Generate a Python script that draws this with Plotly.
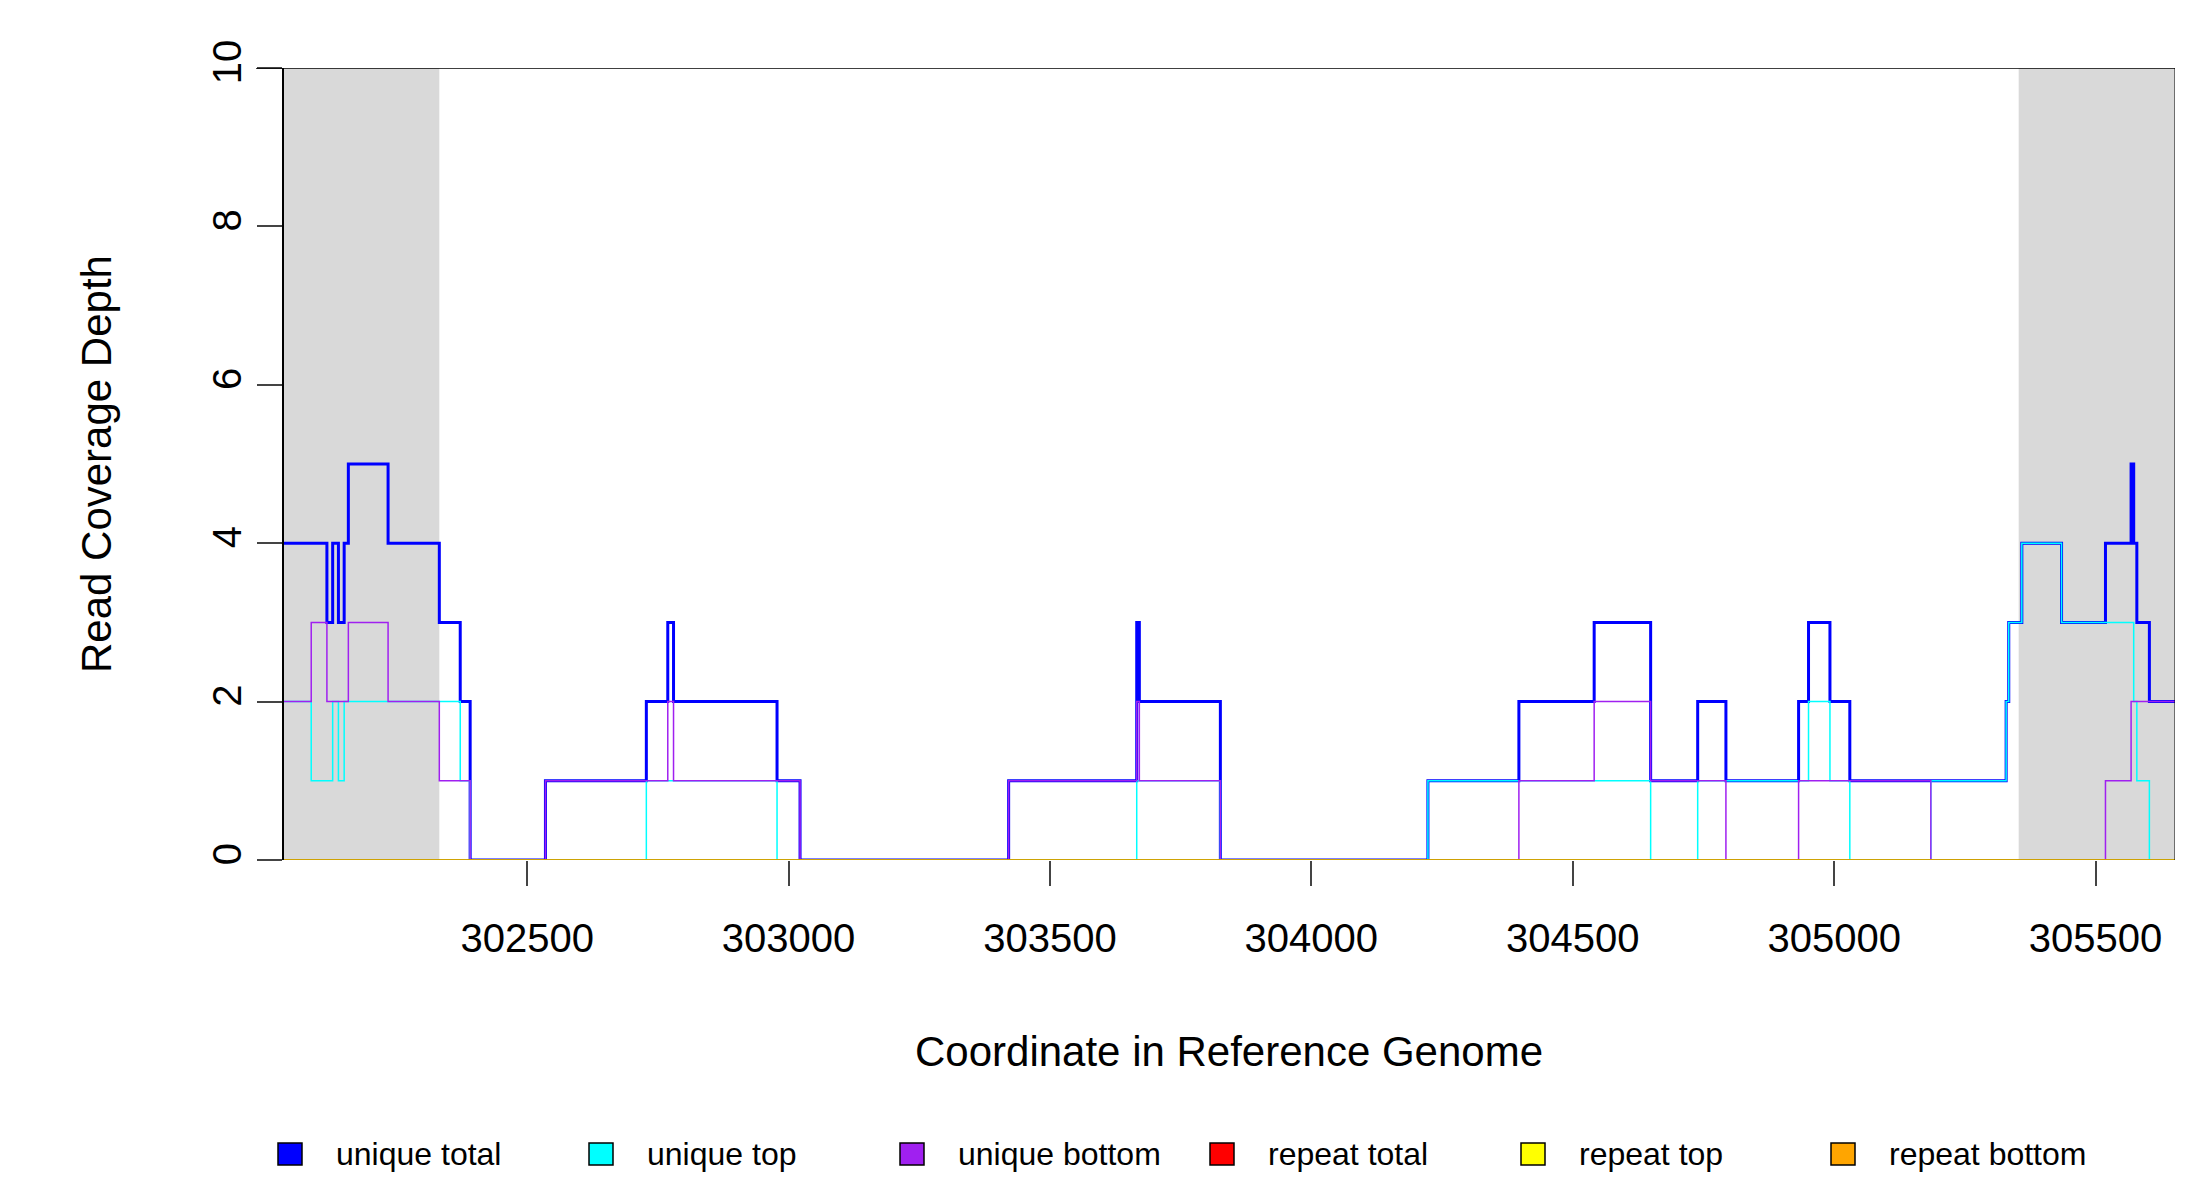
import plotly.graph_objects as go

# breakpoints (start of each step) and depth values
pos = [302033, 302087, 302117, 302128, 302139, 302144, 302150, 302158, 302234, 302332,
       302372, 302391, 302535, 302728, 302769, 302780, 302978, 303022, 303421, 303666,
       303671, 303826, 304223, 304397, 304541, 304649, 304739, 304793, 304932, 304951,
       304992, 305030, 305185, 305329, 305334, 305359, 305435, 305519, 305568, 305573,
       305579, 305603, 305652]
uniq_top = [2, 1, 1, 2, 1, 1, 2, 2, 2, 2,
            1, 0, 0, 1, 1, 1, 0, 0, 0, 1,
            1, 0, 1, 1, 1, 0, 1, 1, 1, 2,
            1, 0, 1, 2, 3, 4, 3, 3, 3, 2,
            1, 0, 0]
uniq_bottom = [2, 3, 2, 2, 2, 2, 2, 3, 2, 1,
               1, 0, 1, 1, 2, 1, 1, 0, 1, 2,
               1, 0, 0, 1, 2, 1, 1, 0, 1, 1,
               1, 1, 0, 0, 0, 0, 0, 1, 2, 2,
               2, 2, 2]
uniq_total = [4, 4, 3, 4, 3, 3, 4, 5, 4, 3,
              2, 0, 1, 2, 3, 2, 1, 0, 1, 3,
              2, 0, 1, 2, 3, 1, 2, 1, 2, 3,
              2, 1, 1, 2, 3, 4, 3, 4, 5, 4,
              3, 2, 2]
rep_total = [0] * len(pos)
rep_top = [0] * len(pos)
rep_bottom = [0] * len(pos)

shaded = [(302033, 302332), (305353, 305652)]
xticks = [302500, 303000, 303500, 304000, 304500, 305000, 305500]

names = ["unique total", "unique top", "unique bottom", "repeat total", "repeat top", "repeat bottom"]
colors = ["#0000ff", "#00ffff", "#a020f0", "#ff0000", "#ffff00", "#ffa500"]

L, R, T, B = 275, 33, 60, 348
W, H = 2200, 1200
pw, ph = W - L - R, H - T - B

def px(x):
    return (x - L) / pw

def py(y):
    return (H - B - y) / ph

fig = go.Figure()
series = [(uniq_total, "#0000ff", 3), (uniq_top, "#00ffff", 1.5), (uniq_bottom, "#a020f0", 1.5),
          (rep_total, "#ff0000", 1.5), (rep_top, "#00c000", 1.5), (rep_bottom, "#ffa500", 1.5)]
for vals, c, w in series:
    fig.add_trace(go.Scatter(x=pos, y=vals, mode="lines", line=dict(color=c, width=w, shape="hv"),
                             showlegend=False, hoverinfo="skip"))

for a, b in shaded:
    fig.add_vrect(x0=a, x1=b, fillcolor="#d9d9d9", line_width=0, layer="below")

# top border and right edge
fig.add_shape(type="line", xref="paper", yref="y", x0=px(248), x1=1, y0=10, y1=10,
              line=dict(color="black", width=1.5))
fig.add_shape(type="line", xref="x", yref="y", x0=305652, x1=305652, y0=0, y1=10,
              line=dict(color="black", width=1))

# legend drawn as squares + text
legend_x = [282, 593, 904, 1214, 1525, 1835]
ly = 1146
for n, c, lx in zip(names, colors, legend_x):
    fig.add_shape(type="rect", xref="paper", yref="paper",
                  x0=px(lx - 12), x1=px(lx + 12), y0=py(ly + 11), y1=py(ly - 11),
                  fillcolor=c, line=dict(color="black", width=1.5))
    fig.add_annotation(x=px(lx + 44), y=py(ly), xref="paper", yref="paper", text=n,
                       showarrow=False, xanchor="left", yanchor="middle", font=dict(size=32))

fig.add_annotation(x=0.5, y=py(1043), xref="paper", yref="paper",
                   text="Coordinate in Reference Genome", showarrow=False,
                   xanchor="center", yanchor="middle", font=dict(size=42))
fig.add_annotation(x=px(88), y=0.5, xref="paper", yref="paper",
                   text="Read Coverage Depth", showarrow=False, textangle=-90,
                   xanchor="center", yanchor="middle", font=dict(size=42))

fig.update_layout(
    width=W, height=H,
    margin=dict(l=L, r=R, t=T, b=B),
    plot_bgcolor="white", paper_bgcolor="white",
    font=dict(family="Liberation Sans, Arial", color="black", size=40),
    showlegend=False,
)
fig.update_xaxes(range=[302033, 305652], tickvals=xticks, tickformat="d", ticks="outside",
                 ticklen=25, tickwidth=1.5, showgrid=False, zeroline=False, showline=False,
                 automargin=False, ticklabelstandoff=18)
fig.update_yaxes(range=[0, 10], tickvals=[0, 2, 4, 6, 8, 10], tickangle=-90, ticks="outside",
                 ticklen=25, tickwidth=1.5, showgrid=False, zeroline=False, showline=True,
                 linecolor="black", linewidth=1.5, anchor="free", position=0,
                 automargin=False)
fig.write_html("out.html")
